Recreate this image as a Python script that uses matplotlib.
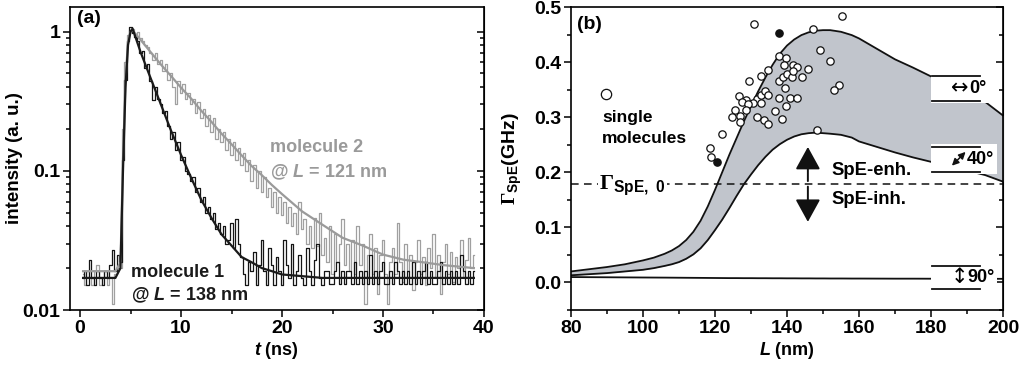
import numpy as np
import matplotlib
matplotlib.use("Agg")
import matplotlib.pyplot as plt
from matplotlib.patches import Rectangle

plt.rcParams['font.family'] = ['Liberation Sans', 'DejaVu Sans']
plt.rcParams['font.weight'] = 'bold'
plt.rcParams['axes.labelweight'] = 'bold'
plt.rcParams['mathtext.fontset'] = 'custom'
plt.rcParams['mathtext.rm'] = 'Liberation Serif'
plt.rcParams['mathtext.it'] = 'Liberation Sans:italic:bold'
plt.rcParams['mathtext.bf'] = 'Liberation Sans:bold'

# ---- panel (a): decay traces, 0.25 ns bins starting at 0.25 ns ----
mol1_counts = [
    0.017, 0.019, 0.015, 0.023, 0.017, 0.015, 0.019, 0.017, 0.015, 0.019,
    0.017, 0.021, 0.027, 0.019, 0.025, 0.022, 0.12, 0.45, 0.85, 1.08,
    0.98, 0.92, 0.86, 0.70, 0.72, 0.55, 0.58, 0.44, 0.32, 0.40,
    0.33, 0.30, 0.26, 0.27, 0.21, 0.17, 0.19, 0.14, 0.16, 0.12,
    0.125, 0.10, 0.095, 0.085, 0.09, 0.07, 0.075, 0.06, 0.065, 0.05,
    0.055, 0.045, 0.05, 0.038, 0.042, 0.035, 0.04, 0.03, 0.032, 0.042,
    0.028, 0.045, 0.03, 0.024, 0.018, 0.015, 0.022, 0.019, 0.026, 0.015,
    0.021, 0.032, 0.019, 0.015, 0.028, 0.021, 0.015, 0.024, 0.019, 0.015,
    0.032, 0.021, 0.017, 0.030, 0.015, 0.019, 0.025, 0.017, 0.015, 0.028,
    0.019, 0.015, 0.023, 0.030, 0.017, 0.015, 0.019,
    0.019, 0.0155, 0.0155, 0.019, 0.022, 0.0155, 0.019, 0.0155, 0.019, 0.019,
    0.0155, 0.022, 0.0155, 0.019, 0.0155, 0.019, 0.0155, 0.025, 0.0155, 0.019,
    0.0155, 0.019, 0.022, 0.0155, 0.0155, 0.019, 0.0155, 0.022, 0.019, 0.0155,
    0.019, 0.0155, 0.019, 0.0155, 0.022, 0.0155, 0.019, 0.0155, 0.019, 0.022,
    0.0155, 0.019, 0.0155, 0.0155, 0.019, 0.022, 0.0155, 0.019, 0.0155, 0.019,
    0.0155, 0.019, 0.0155, 0.025, 0.019, 0.0155, 0.019, 0.0155, 0.019,
]
mol2_counts = [
    0.018, 0.015, 0.019, 0.017, 0.015, 0.019, 0.021, 0.015, 0.017, 0.019,
    0.015, 0.017, 0.011, 0.018, 0.020,
    0.020, 0.20, 0.60, 0.95, 1.02, 1.05, 0.95, 1.00, 0.90, 0.85, 0.80, 0.78, 0.70,
    0.62, 0.70, 0.58, 0.62, 0.52, 0.58, 0.45, 0.50, 0.40, 0.30,
    0.44, 0.36, 0.42, 0.33, 0.36, 0.30, 0.33, 0.26, 0.31, 0.24,
    0.28, 0.21, 0.25, 0.19, 0.24, 0.17, 0.20, 0.16, 0.19, 0.14,
    0.17, 0.13, 0.16, 0.12, 0.145, 0.11, 0.135, 0.10, 0.12, 0.085,
    0.11, 0.075, 0.10, 0.07, 0.09, 0.065, 0.075, 0.055, 0.07, 0.05,
    0.065, 0.048, 0.06, 0.042, 0.055, 0.04, 0.05, 0.035, 0.06, 0.038,
    0.045, 0.03, 0.04, 0.028, 0.046, 0.029, 0.05, 0.025, 0.033, 0.022,
    0.04, 0.018, 0.035, 0.022, 0.03, 0.045, 0.021, 0.03, 0.019, 0.032,
    0.018, 0.04, 0.021, 0.03, 0.011, 0.025, 0.035, 0.018, 0.028, 0.013,
    0.025, 0.032, 0.018, 0.011, 0.022, 0.028, 0.018, 0.042, 0.022, 0.016,
    0.03, 0.019, 0.025, 0.014, 0.022, 0.032, 0.018, 0.024, 0.015, 0.028,
    0.02, 0.035, 0.017, 0.025, 0.013, 0.022, 0.03, 0.018, 0.026, 0.016,
    0.024, 0.02, 0.032, 0.017, 0.023, 0.033, 0.02, 0.025,
]
fit_t = [0.3, 3.5, 4.0, 4.25, 4.5, 4.75, 5.0, 5.2, 6, 7, 8, 9, 10, 11, 12, 13, 14,
         15, 16, 17, 18, 19, 20, 22, 24, 26, 28, 30, 32, 34, 36, 39]
fit1 = [0.017, 0.017, 0.02, 0.1, 0.4, 0.8, 1.0, 1.05, 0.71, 0.46, 0.30, 0.195,
        0.13, 0.089, 0.062, 0.046, 0.035, 0.029, 0.024, 0.022, 0.020, 0.019,
        0.018, 0.0175, 0.017, 0.017, 0.017, 0.017, 0.017, 0.017, 0.017, 0.017]
fit2 = [0.019, 0.019, 0.022, 0.12, 0.45, 0.85, 1.0, 1.02, 0.87, 0.71, 0.58, 0.48,
        0.395, 0.33, 0.27, 0.225, 0.185, 0.155, 0.129, 0.108, 0.093, 0.079,
        0.068, 0.051, 0.041, 0.033, 0.029, 0.025, 0.023, 0.022, 0.021, 0.020]

# ---- panel (b) ----
L_curve = [80, 85, 90, 95, 100, 103, 106, 108, 110, 112, 114, 116, 118, 120, 122,
           124, 126, 128, 130, 132, 134, 136, 138, 140, 142, 144, 146, 148, 150,
           152, 155, 158, 160, 165, 170, 175, 180, 185, 190, 195, 200]
gamma_0deg = [0.020, 0.024, 0.028, 0.033, 0.040, 0.045, 0.052, 0.058, 0.066, 0.077,
              0.092, 0.112, 0.138, 0.168, 0.200, 0.232, 0.262, 0.292, 0.320, 0.347,
              0.372, 0.395, 0.415, 0.430, 0.441, 0.449, 0.454, 0.457, 0.458, 0.458,
              0.455, 0.449, 0.443, 0.424, 0.405, 0.390, 0.374, 0.360, 0.345, 0.328, 0.303]
gamma_40deg = [0.013, 0.015, 0.017, 0.020, 0.023, 0.026, 0.030, 0.033, 0.037, 0.043,
               0.051, 0.062, 0.077, 0.095, 0.114, 0.135, 0.157, 0.178, 0.196, 0.213,
               0.228, 0.241, 0.251, 0.259, 0.265, 0.269, 0.271, 0.272, 0.271, 0.270,
               0.268, 0.263, 0.256, 0.246, 0.236, 0.227, 0.219, 0.211, 0.203, 0.195, 0.183]
gamma_90deg = [0.0098, 0.0096, 0.0094, 0.0092, 0.009, 0.0089, 0.0088, 0.0087, 0.0086,
               0.0085, 0.0084, 0.0083, 0.0082, 0.0081, 0.008, 0.0079, 0.0079, 0.0078,
               0.0078, 0.0077, 0.0077, 0.0076, 0.0076, 0.0075, 0.0075, 0.0074, 0.0074,
               0.0073, 0.0073, 0.0072, 0.0072, 0.0071, 0.0071, 0.007, 0.0069, 0.0069,
               0.0068, 0.0067, 0.0067, 0.0066, 0.0066]
gamma_ref = 0.179

mol_L = [130.7, 147.2, 155.3, 149.2, 152.0, 137.7, 139.8, 134.8, 139.2, 141.6,
         142.7, 145.9, 132.7, 129.4, 137.7, 139.0, 140.0, 141.3, 141.8, 144.2,
         139.4, 154.4, 153.1, 137.7, 140.9, 142.7, 139.8, 126.6, 128.6, 131.6,
         132.7, 133.8, 134.7, 127.4, 130.5, 132.9, 129.2, 125.5, 128.7, 124.6,
         127.0, 131.8, 127.0, 133.5, 134.8, 136.8, 138.7, 122.0, 118.5, 119.0, 148.3]
mol_gamma = [0.469, 0.460, 0.483, 0.4225, 0.4025, 0.4116, 0.407, 0.386, 0.3947, 0.395,
             0.392, 0.388, 0.374, 0.366, 0.366, 0.373, 0.379, 0.373, 0.383, 0.373,
             0.353, 0.358, 0.349, 0.335, 0.334, 0.335, 0.321, 0.339, 0.332, 0.333,
             0.340, 0.347, 0.340, 0.327, 0.326, 0.326, 0.3245, 0.3136, 0.3123, 0.301,
             0.3027, 0.301, 0.292, 0.295, 0.287, 0.311, 0.2966, 0.2688, 0.2446, 0.2276, 0.276]
sel_L = [137.9, 120.5]
sel_gamma = [0.453, 0.218]

fig = plt.figure(figsize=(10.26, 3.67), dpi=100)
ax1 = fig.add_axes([0.0682, 0.1553, 0.4035, 0.8256])
ax2 = fig.add_axes([0.5565, 0.1553, 0.4211, 0.8256])

t1 = 0.25 * (np.arange(len(mol1_counts)) + 1)
t2 = 0.25 * (np.arange(len(mol2_counts)) + 1)
ax1.plot(t2, mol2_counts, color='#a0a0a0', lw=0.9, drawstyle='steps-mid')
ax1.plot(t1, mol1_counts, color='#151515', lw=0.9, drawstyle='steps-mid')
ax1.plot(fit_t, fit2, color='#9a9a9a', lw=1.6)
ax1.plot(fit_t, fit1, color='#1a1a1a', lw=1.6)
ax1.set_yscale('log')
ax1.set_xlim(-1, 40)
ax1.set_ylim(0.01, 1.5)
ax1.set_xticks([0, 10, 20, 30, 40])
ax1.set_xticks([5, 15, 25, 35], minor=True)
ax1.set_yticks([0.01, 0.1, 1])
ax1.set_yticklabels(['0.01', '0.1', '1'])
ax1.set_xlabel(r'$t$ (ns)', fontsize=13, labelpad=2)
ax1.set_ylabel('intensity (a. u.)', fontsize=13.5)
ax1.yaxis.set_label_coords(-0.113, 0.5)
ax1.text(-0.3, 1.25, '(a)', fontsize=14, va='center')
ax1.text(18.8, 0.146, 'molecule 2', color='#9a9a9a', fontsize=13, va='center')
ax1.text(18.8, 0.098, '@ $L$ = 121 nm', color='#9a9a9a', fontsize=13, va='center')
ax1.text(5.0, 0.0185, 'molecule 1', color='#1a1a1a', fontsize=13, va='center')
ax1.text(5.0, 0.0128, '@ $L$ = 138 nm', color='#1a1a1a', fontsize=13, va='center')

ax2.fill_between(L_curve, gamma_40deg, gamma_0deg, color='#c1c5cc', lw=0, zorder=1)
ax2.plot(L_curve, gamma_0deg, color='#111111', lw=1.3, zorder=2)
ax2.plot(L_curve, gamma_40deg, color='#111111', lw=1.3, zorder=2)
ax2.plot(L_curve, gamma_90deg, color='#111111', lw=1.3, zorder=2)
ax2.axhline(gamma_ref, color='#111111', lw=1.1, ls=(0, (5, 3.5)), zorder=2)
ax2.scatter(mol_L, mol_gamma, s=28, facecolor='white', edgecolor='#111111',
            lw=0.9, zorder=4)
ax2.scatter(sel_L, sel_gamma, s=28, facecolor='#111111', edgecolor='#111111',
            lw=0.9, zorder=4)
ax2.scatter([89.7], [0.343], s=55, facecolor='white', edgecolor='#111111',
            lw=0.9, zorder=4)

# angle label boxes at the right edge
for y0, y1, arrow, lab, xr in [(0.325, 0.38, '\u2194', '0\u00b0', 195.3),
                               (0.197, 0.251, '', '40\u00b0', 197.5),
                               (-0.016, 0.035, '\u2195', '90\u00b0', 197.8)]:
    ym = (y0 + y1) / 2
    ax2.add_patch(Rectangle((180, y0), 198.3 - 180, y1 - y0, facecolor='white',
                            edgecolor='none', zorder=3))
    ax2.plot([180.4, 193.5], [y1 - 0.005, y1 - 0.005], color='#111111', lw=1.3, zorder=4)
    ax2.plot([180.4, 193.5], [y0 + 0.004, y0 + 0.004], color='#111111', lw=1.3, zorder=4)
    t = ax2.text(xr, ym, lab, fontsize=13, ha='right', va='center', zorder=5)
    if arrow:
        ax2.annotate(arrow, xy=(0, 0.5), xycoords=t, ha='right', va='center',
                     fontsize=15, fontweight='normal', zorder=5,
                     family=['DejaVu Sans'])
# diagonal double arrow of the 40 degree label (no installed font has it)
ax2.annotate('', xy=(189.6, 0.237), xytext=(185.8, 0.212),
             arrowprops=dict(arrowstyle='<|-|>,head_length=0.8,head_width=0.4',
                             color='#111111', lw=1.1, shrinkA=0, shrinkB=0,
                             mutation_scale=5),
             zorder=5)

arrow_kw = dict(arrowstyle='-|>,head_length=1.0,head_width=0.55', color='#111111',
                lw=1.4, mutation_scale=14, shrinkA=0, shrinkB=0)
ax2.annotate('', xy=(145.8, 0.246), xytext=(145.8, 0.184), arrowprops=arrow_kw, zorder=5)
ax2.annotate('', xy=(145.8, 0.11), xytext=(145.8, 0.174), arrowprops=arrow_kw, zorder=5)
ax2.text(152.3, 0.203, 'SpE-enh.', fontsize=13.3, va='center')
ax2.text(152.3, 0.150, 'SpE-inh.', fontsize=13.3, va='center')
ax2.text(88.6, 0.300, 'single', fontsize=12.5, va='center')
ax2.text(88.6, 0.262, 'molecules', fontsize=12.5, va='center')
ax2.text(81.8, 0.468, '(b)', fontsize=14, va='center')
ax2.text(87.8, 0.176, r'$\Gamma_{\mathbf{SpE,\ 0}}$', fontsize=16, va='center',
         bbox=dict(facecolor='white', edgecolor='none', pad=1), zorder=5)

ax2.set_xlim(80, 200)
ax2.set_ylim(-0.05, 0.5)
ax2.set_xticks([80, 100, 120, 140, 160, 180, 200])
ax2.set_xticks([90, 110, 130, 150, 170, 190], minor=True)
ax2.set_yticks([0.0, 0.1, 0.2, 0.3, 0.4, 0.5])
ax2.set_yticks([-0.05, 0.05, 0.15, 0.25, 0.35, 0.45], minor=True)
ax2.set_yticklabels(['0.0', '0.1', '0.2', '0.3', '0.4', '0.5'])
ax2.set_xlabel(r'$L$ (nm)', fontsize=13, labelpad=2)
ax2.set_ylabel(r'$\Gamma_{\mathbf{SpE}}$(GHz)', fontsize=14)
ax2.yaxis.set_label_coords(-0.108, 0.5)

for ax in (ax1, ax2):
    for sp in ax.spines.values():
        sp.set_linewidth(1.2)
    ax.tick_params(which='both', direction='out', width=1.1, labelsize=14,
                   right=False, top=False, pad=2)
    ax.tick_params(which='major', length=5)
    ax.tick_params(which='minor', length=3)
    for tl in ax.get_xticklabels() + ax.get_yticklabels():
        tl.set_fontweight('bold')

# inward ticks on the right-hand frame
sec1 = ax1.secondary_yaxis('right')
sec2 = ax2.secondary_yaxis('right')
sec2.set_yticks([0.0, 0.1, 0.2, 0.3, 0.4, 0.5])
sec2.set_yticks([-0.05, 0.05, 0.15, 0.25, 0.35, 0.45], minor=True)
for sec in (sec1, sec2):
    sec.tick_params(which='both', direction='in', width=1.1, labelright=False)
    sec.tick_params(which='major', length=5)
    sec.tick_params(which='minor', length=3)

fig.savefig('out.png', dpi=100)
